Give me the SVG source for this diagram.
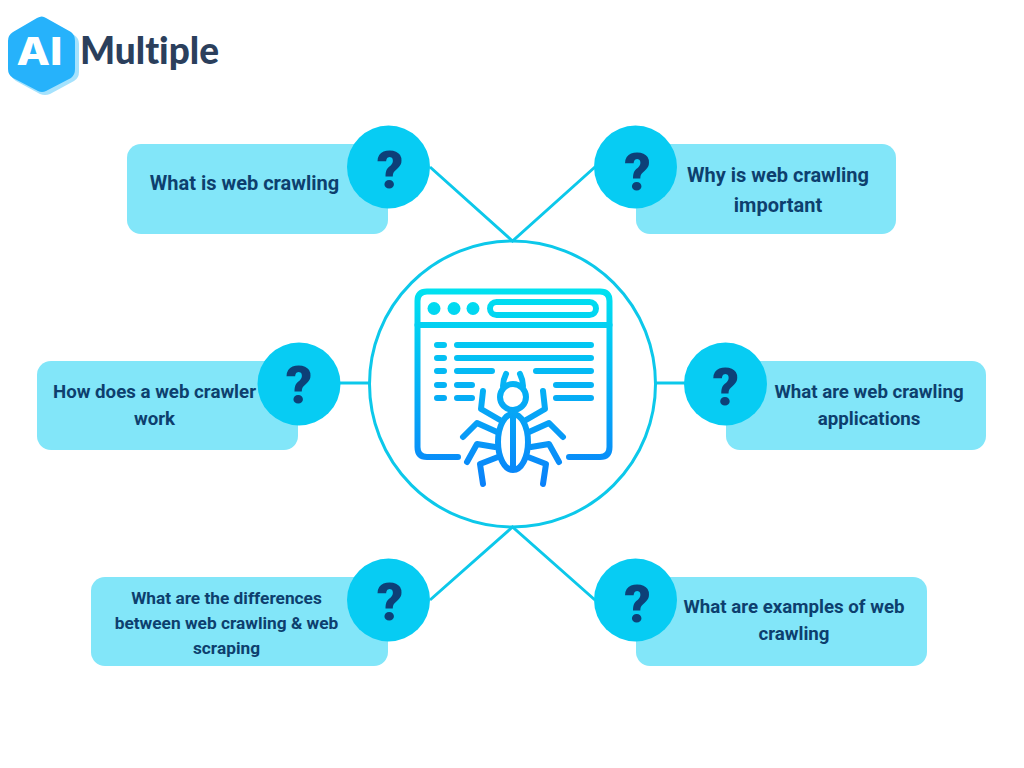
<svg xmlns="http://www.w3.org/2000/svg" width="1024" height="768" viewBox="0 0 1024 768">
<style>
.card{fill:#82e6f9}
.dot{fill:#07ccf3}
.q{font:900 52px Roboto,"Liberation Sans",sans-serif;fill:#0d4078;text-anchor:middle}
.t{font:700 18.700px Roboto,"Liberation Sans",sans-serif;fill:#0d3f6e;text-anchor:middle}
.b{font-size:20px}
.s{font-size:17.300px}
.c{fill:none;stroke:#0cc8ea;stroke-width:3}
.i{fill:none;stroke:url(#g);stroke-width:6;stroke-linecap:round;stroke-linejoin:round}
.if{fill:url(#g)}
</style>
<defs>
<linearGradient id="g" gradientUnits="userSpaceOnUse" x1="0" y1="289" x2="0" y2="488">
<stop offset="0" stop-color="#00e2f0"/><stop offset="1" stop-color="#0a80fa"/>
</linearGradient>
</defs>
<rect width="1024" height="768" fill="#fff"/>
<g id="logo">
<path d="M49 21 L74 35 Q79 38 79 44 V72 Q79 78 74 81 L50 94 Q45 96 40 94 L16 81 Q11 78 11 72 V44 Q11 38 16 35 L41 21 Z" fill="#a5e2fd"/>
<path d="M46 18 L71 32 Q75 35 75 41 V69 Q75 75 71 78 L46 91 Q42 93 38 91 L13 78 Q8 75 8 69 V41 Q8 35 13 32 L37 18 Q42 15 46 18 Z" fill="#26b2fb"/>
<text x="39.500" y="65" font-family="Inter,'Liberation Sans',sans-serif" font-weight="800" font-size="38" fill="#fff" text-anchor="middle" textLength="46" lengthAdjust="spacingAndGlyphs">AI</text>
<text x="80" y="64" font-family="Lato,'Liberation Sans',sans-serif" font-weight="900" font-size="38" fill="#2b3f5c" textLength="139" lengthAdjust="spacingAndGlyphs" style="font-variant-ligatures:none">Multiple</text>
</g>
<g id="connectors">
<path class="c" d="M430 167 L512.500 241 L595 167"/>
<path class="c" d="M430 600 L512.500 527 L595 600"/>
<path class="c" d="M340 383 H370"/>
<path class="c" d="M655 383 H685"/>
</g>
<g id="center">
<circle class="c" cx="512.500" cy="384" r="143"/>
<g id="crawler-icon">
<path class="i" d="M458 457 H427 Q417.500 457 417.500 447 V301 Q417.500 291.500 427 291.500 H600 Q609.500 291.500 609.500 301 V447 Q609.500 457 600 457 H569"/>
<path class="i" d="M417.500 325 H609.500"/>
<circle class="if" cx="434" cy="308.500" r="6.500"/>
<circle class="if" cx="454" cy="308.500" r="6.500"/>
<circle class="if" cx="473" cy="308.500" r="6.500"/>
<rect class="i" x="490" y="302" width="106" height="13" rx="6.500"/>
<path class="i" d="M437 345 H444 M457 345 H591 M437 358 H444 M457 358 H591 M437 371 H444 M457 371 H492 M536 371 H591 M437 385 H444 M457 385 H472 M556 385 H591 M437 398 H444 M457 398 H472 M556 398 H591"/>
<circle class="i" cx="513" cy="397" r="13"/>
<ellipse class="i" cx="513" cy="442" rx="15" ry="28"/>
<path class="i" d="M513 415 V469"/>
<path class="i" d="M503 386 Q503 380 506 374 M523 386 Q523 380 520 374"/>
<path class="i" d="M483 391 L481 409 L500 420 M543 391 L545 409 L526 420"/>
<path class="i" d="M463 437 L477 423 L497 432 M563 437 L549 423 L529 432"/>
<path class="i" d="M467 462 L477 444 L495 447 M559 462 L549 444 L531 447"/>
<path class="i" d="M483 484 L480 464 L498 457 M543 484 L546 464 L528 457"/>
</g>
</g>
<g id="n1">
<rect class="card" x="127" y="144" width="261" height="90" rx="14"/>
<circle class="dot" cx="388.500" cy="167" r="41.500"/>
<text class="q" x="390" y="188">?</text>
<text class="t b" x="244.500" y="190">What is web crawling</text>
</g>
<g id="n2">
<rect class="card" x="636" y="144" width="260" height="90" rx="14"/>
<circle class="dot" cx="635.500" cy="167" r="41.500"/>
<text class="q" x="637.500" y="190">?</text>
<text class="t b" x="778" y="182">Why is web crawling</text>
<text class="t b" x="778" y="212">important</text>
</g>
<g id="n3">
<rect class="card" x="37" y="361" width="261" height="89" rx="14"/>
<circle class="dot" cx="299" cy="384" r="41.500"/>
<text class="q" x="299" y="403">?</text>
<text class="t" x="154.500" y="398">How does a web crawler</text>
<text class="t" x="154.500" y="425">work</text>
</g>
<g id="n4">
<rect class="card" x="726" y="361" width="260" height="89" rx="14"/>
<circle class="dot" cx="725.500" cy="384" r="41.500"/>
<text class="q" x="725.700" y="405">?</text>
<text class="t" x="869" y="398">What are web crawling</text>
<text class="t" x="869" y="425">applications</text>
</g>
<g id="n5">
<rect class="card" x="91" y="577" width="297" height="89" rx="14"/>
<circle class="dot" cx="388.500" cy="600" r="41.500"/>
<text class="q" x="390" y="620">?</text>
<text class="t s" x="226.500" y="604">What are the differences</text>
<text class="t s" x="226.500" y="629">between web crawling &amp; web</text>
<text class="t s" x="226.500" y="654">scraping</text>
</g>
<g id="n6">
<rect class="card" x="636" y="577" width="291" height="89" rx="14"/>
<circle class="dot" cx="635.500" cy="600" r="41.500"/>
<text class="q" x="637.500" y="622">?</text>
<text class="t" x="794" y="613">What are examples of web</text>
<text class="t" x="794" y="640">crawling</text>
</g>
</svg>
